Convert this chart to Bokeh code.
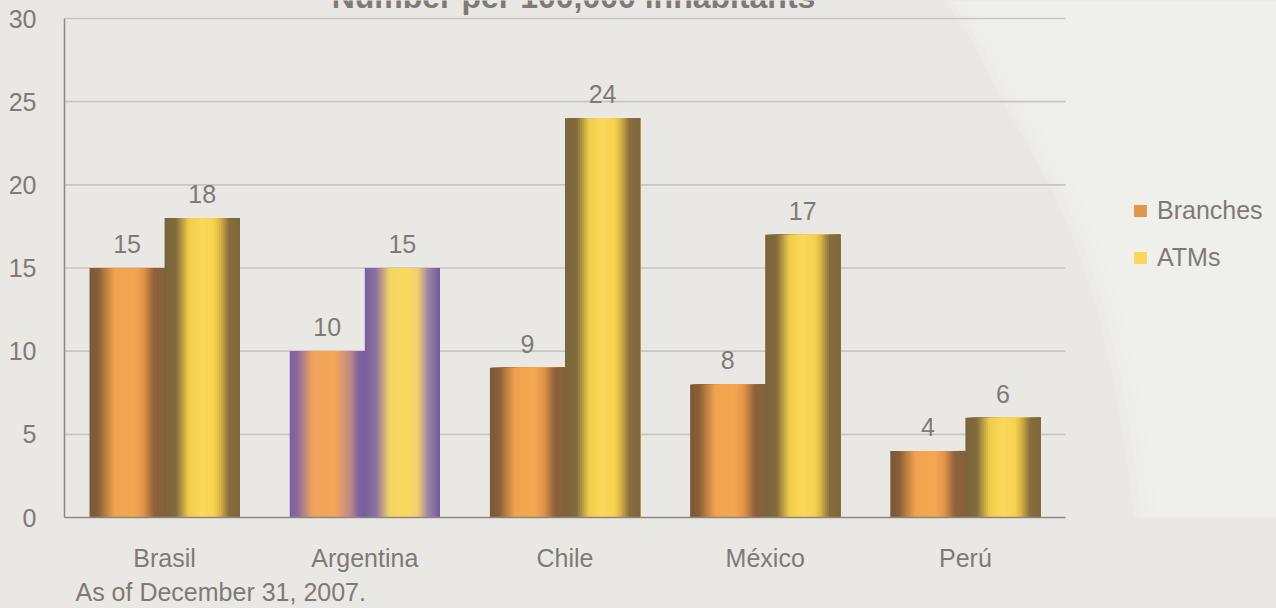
from bokeh.plotting import figure
from bokeh.models import (ColumnDataSource, FixedTicker, Label, Legend, LegendItem, Title)
from bokeh.embed import file_html
from bokeh.resources import INLINE
from bokeh.core.properties import value

# ---------------- data ----------------
countries = ["Brasil", "Argentina", "Chile", "México", "Perú"]
branches = [15, 10, 9, 8, 4]
atms = [18, 15, 24, 17, 6]
series_names = ["Branches", "ATMs"]
highlight = ["Argentina"]
y_ticks = [0, 5, 10, 15, 20, 25, 30]
title_text = "Number per 100,000 inhabitants"
note_text = "As of December 31, 2007."

# ---------------- style ----------------
FONT = "Liberation Sans"
TXT = "#7f7a77"
BG = "#eae8e5"
BG_LIGHT = "#f1f0ee"
W, H = 1276, 608
LEFT, BOTTOM = 64, 91              # room for the axis labels
PLOT_W, PLOT_H = 1001, 499         # pixel size of the 5 categories x 0..30 area
# decorative light swoosh on the right (picture pixels), drawn with a soft edge
SWOOSH_PX = [(950, 0), (980, 45), (1007, 100), (1035, 148), (1060, 194), (1083, 250),
             (1103, 310), (1120, 385), (1133, 465), (1142, 540), (1147, 608), (1276, 608), (1276, 0)]
SWOOSH_SOFT = [-6, 2, 10, 18]

STOPS = {
    "Branches": [(0, "#7a5837"), (0.12, "#8a5f39"), (0.33, "#f2a24e"), (0.6, "#f4a752"),
                 (0.72, "#e1934a"), (0.86, "#8f623a"), (1, "#83603c")],
    "ATMs": [(0, "#7a653a"), (0.15, "#806a3d"), (0.32, "#f0cc4a"), (0.5, "#fbd95b"),
             (0.66, "#f7d250"), (0.74, "#d9b444"), (0.86, "#866d3e"), (1, "#7f683c")],
    "Branches_h": [(0, "#7a5e9d"), (0.1, "#8a6a9f"), (0.3, "#f0a35e"), (0.6, "#f4a656"),
                   (0.8, "#c08a86"), (0.92, "#7f63a0"), (1, "#7a5e9d")],
    "ATMs_h": [(0, "#7a5e9d"), (0.15, "#8c72a3"), (0.33, "#f6d465"), (0.55, "#fbd95c"),
               (0.7, "#f2d06e"), (0.85, "#9c82a6"), (1, "#735a98")],
}


def hex2rgb(h):
    h = h.lstrip("#")
    return tuple(int(h[i:i + 2], 16) for i in (0, 2, 4))


def grad(stops, t):
    for (t0, c0), (t1, c1) in zip(stops[:-1], stops[1:]):
        if t0 <= t <= t1:
            f = 0 if t1 == t0 else (t - t0) / (t1 - t0)
            a, b = hex2rgb(c0), hex2rgb(c1)
            return "#%02x%02x%02x" % tuple(int(round(a[k] + (b[k] - a[k]) * f)) for k in range(3))
    return stops[-1][1]


N_STRIPS = 40
GROUP = 0.75
BAR_W = GROUP / 2
n = len(countries)
ymax = y_ticks[-1]
x_end = n * (W - LEFT) / PLOT_W
y_end = ymax * (H - BOTTOM) / PLOT_H

p = figure(width=W, height=H, output_backend="svg", toolbar_location=None,
           x_range=(0, x_end), y_range=(0, y_end),
           min_border_left=LEFT, min_border_right=0, min_border_top=0, min_border_bottom=BOTTOM,
           background_fill_color=BG, border_fill_color=BG, outline_line_color=None)

# background swoosh (decoration)
for d in SWOOSH_SOFT:
    p.patch(x=[(px + (d if px < W else 0) - LEFT) * n / PLOT_W for px, py in SWOOSH_PX],
            y=[(H - BOTTOM - py) * ymax / PLOT_H for px, py in SWOOSH_PX],
            fill_color=BG_LIGHT, fill_alpha=0.35, line_color=None)

# horizontal grid lines limited to the category area
p.xgrid.grid_line_color = None
p.ygrid.grid_line_color = None
p.segment(x0=[0] * (len(y_ticks) - 1), x1=[n] * (len(y_ticks) - 1), y0=y_ticks[1:], y1=y_ticks[1:],
          line_color="#cbc4bf", line_width=1.6)

renderers = {}
for s_idx, (sname, vals) in enumerate(zip(series_names, [branches, atms])):
    left, right, top, bottom, colors = [], [], [], [], []
    for i, (c, v) in enumerate(zip(countries, vals)):
        stops = STOPS[sname + ("_h" if c in highlight else "")]
        x0 = i + (1 - GROUP) / 2 + s_idx * BAR_W
        for k in range(N_STRIPS):
            t = (k + 0.5) / N_STRIPS
            left.append(x0 + BAR_W * k / N_STRIPS)
            right.append(x0 + BAR_W)          # each strip runs to the bar's right edge
            top.append(v)
            bottom.append(0)
            colors.append(grad(stops, t))
    src = ColumnDataSource(dict(left=left, right=right, top=top, bottom=bottom, color=colors))
    renderers[sname] = p.quad(left="left", right="right", top="top", bottom="bottom",
                              fill_color="color", line_color=None, source=src)

    lab_x = [i + (1 - GROUP) / 2 + s_idx * BAR_W + BAR_W / 2 for i in range(n)]
    lsrc = ColumnDataSource(dict(x=lab_x, y=vals, t=[str(v) for v in vals]))
    p.text(x="x", y="y", text="t", source=lsrc, text_align="center", text_baseline="alphabetic",
           y_offset=-24, text_font=value(FONT), text_font_size="25px", text_color=TXT)

# axes
p.xaxis.ticker = FixedTicker(ticks=[i + 0.5 for i in range(n)])
p.xaxis.major_label_overrides = {i + 0.5: c for i, c in enumerate(countries)}
p.xaxis.bounds = (0, n)
p.yaxis.ticker = FixedTicker(ticks=y_ticks)
p.yaxis.bounds = (0, ymax)
for ax in (p.xaxis[0], p.yaxis[0]):
    ax.major_tick_line_color = None
    ax.minor_tick_line_color = None
    ax.major_tick_out = 0
    ax.major_tick_in = 0
    ax.axis_line_color = "#8c8782"
    ax.axis_line_width = 1.5
    ax.major_label_text_font = FONT
    ax.major_label_text_font_size = "25px"
    ax.major_label_text_color = TXT
p.xaxis.major_label_standoff = 26
p.yaxis.major_label_standoff = 28

# title (cut off at the top of the picture, as in the original)
p.add_layout(Label(x=509, y=521, x_units="screen", y_units="screen", text=title_text,
                   text_align="center", text_baseline="alphabetic", text_font=FONT,
                   text_font_size="32px", text_font_style="bold", text_color=TXT))

# note below the category labels
p.add_layout(Title(text=note_text, align="left", offset=11, standoff=2, text_font=FONT,
                   text_font_size="25px", text_font_style="normal", text_color=TXT), "below")

# legend
legend = Legend(items=[LegendItem(label=series_names[0], renderers=[renderers["Branches"]], index=28),
                       LegendItem(label=series_names[1], renderers=[renderers["ATMs"]], index=22)],
                location=(1068, 245), orientation="vertical",
                label_text_font=FONT, label_text_font_size="25px", label_text_color=TXT,
                glyph_width=16, glyph_height=15, label_standoff=9, spacing=18,
                padding=0, margin=0, border_line_color=None, background_fill_alpha=0)
p.add_layout(legend)

html = file_html(p, INLINE)
html = html.replace("<head>", "<head><style>html,body{background:%s;}</style>" % BG, 1)
open("out.html", "w").write(html)
